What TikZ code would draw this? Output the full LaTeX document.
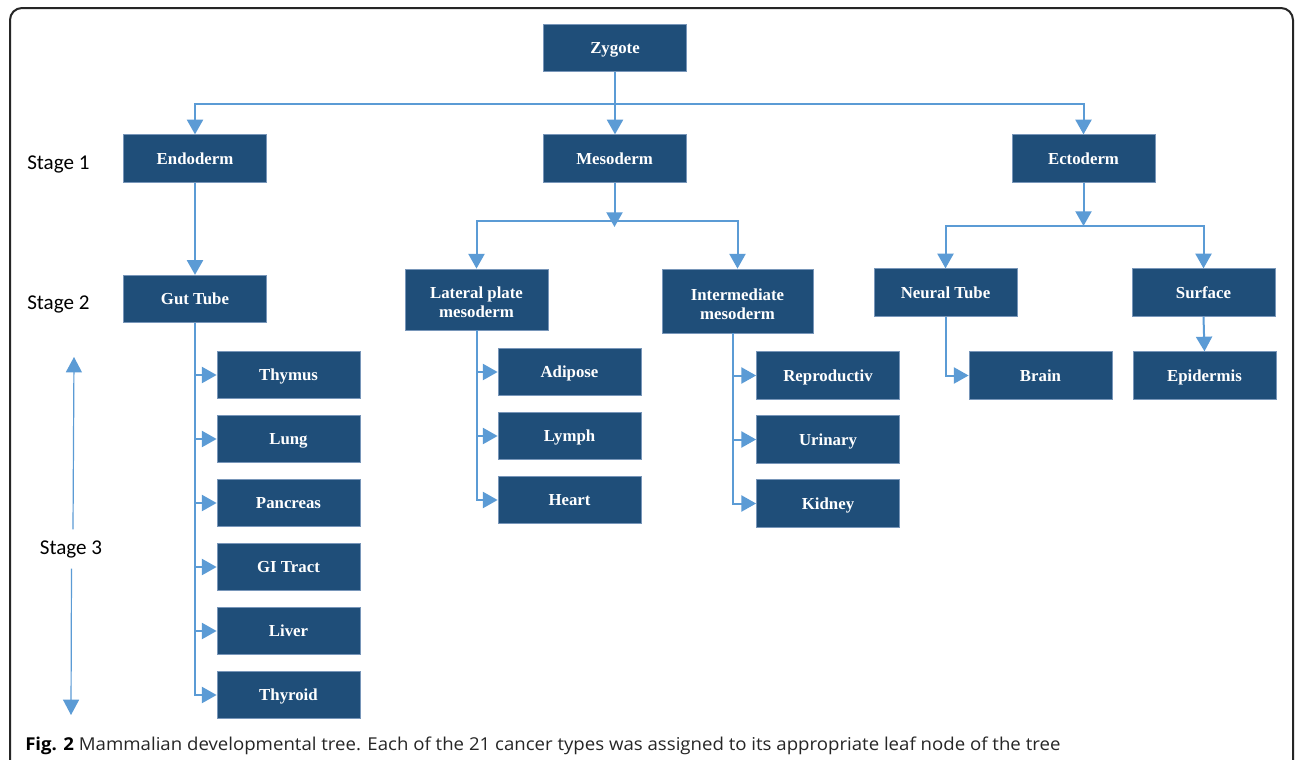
\documentclass[tikz,border=0pt]{standalone}
\usepackage{fontspec}
\setmainfont{Liberation Serif}
\newfontfamily\stagefont{Carlito}
\newfontfamily\capfont{Open Sans}
\usetikzlibrary{arrows.meta,calc}
\definecolor{boxblue}{RGB}{31,78,121}
\definecolor{boxedge}{RGB}{120,150,185}
\definecolor{linkblue}{RGB}{91,155,213}
\begin{document}
\begin{tikzpicture}[x=0.75pt,y=-0.75pt,
  box/.style={draw=boxedge, line width=0.6pt, fill=boxblue, text=white,
    font=\bfseries\fontsize{12.6}{14.25}\selectfont, align=center, inner sep=0pt,
    text depth=0pt, minimum width=107.25pt, minimum height=35.6pt},
  link/.style={draw=linkblue, line width=1.5pt, -{Triangle[width=12pt,length=11pt]}},
  stagearrow/.style={draw=linkblue, line width=0.9pt, -{Triangle[width=12pt,length=11.5pt]}},
  stagelbl/.style={font=\stagefont\fontsize{15.8}{18}\selectfont, inner sep=0pt}]
\clip (0,0) rectangle (1296,760);
\fill[white] (0,0) rectangle (1296,760);
% frame
\draw[line width=1.5pt, rounded corners=9pt, black!85] (10,8) rectangle (1293,775);

% stage 0 / 1
\node[box] (zyg) at (615,48) {Zygote};
\node[box] (endo) at (195,158.5) {Endoderm};
\node[box] (meso) at (614.5,158.5) {Mesoderm};
\node[box] (ecto) at (1083.5,158.5) {Ectoderm};
% stage 2
\node[box] (gut) at (195,299) {Gut Tube};
\node[box, minimum height=45.75pt] (lat) at (476.5,299.5) {\rule{0pt}{13pt}Lateral plate\\mesoderm};
\node[box, minimum width=113.25pt, minimum height=48pt] (inter) at (737.5,301) {\rule{0pt}{13pt}Intermediate\\mesoderm};
\node[box] (neural) at (945.5,292.5) {Neural Tube};
\node[box] (surf) at (1203.5,292.5) {Surface};
% stage 3 leaves
\node[box] (thymus) at (288.5,375) {Thymus};
\node[box] (lung) at (288.5,439) {Lung};
\node[box] (pancreas) at (288.5,503) {Pancreas};
\node[box] (gi) at (288.5,567) {GI Tract};
\node[box] (liver) at (288.5,631) {Liver};
\node[box] (thyroid) at (288.5,695) {Thyroid};
\node[box] (adipose) at (569.5,372) {Adipose};
\node[box] (lymph) at (569.5,436) {Lymph};
\node[box] (heart) at (569.5,500) {Heart};
\node[box] (repro) at (828,375.5) {Reproductiv};
\node[box] (urinary) at (828,439.5) {Urinary};
\node[box] (kidney) at (828,503.5) {Kidney};
\node[box] (brain) at (1040.5,375.5) {Brain};
\node[box] (epi) at (1204.5,375.5) {Epidermis};

% connectors from zygote
\coordinate (j0) at (615,104);
\draw[link] (zyg.south) -- (zyg.south |- meso.north);
\draw[link] (j0) -| (endo.north);
\draw[link] (j0) -| (ecto.north);
% endoderm
\draw[link] (endo.south) -- (gut.north);
\foreach \n in {thymus,lung,pancreas,gi,liver,thyroid}
  \draw[link] (gut.south) |- (\n.west);
% mesoderm
\coordinate (j1) at (614.5,221);
\coordinate (m1) at (614.5,227);
\draw[link] (meso.south) -- (m1);
\draw[link] (j1) -| (lat.north);
\draw[link] (j1) -| (inter.north);
\foreach \n in {adipose,lymph,heart}
  \draw[link] (lat.south) |- (\n.west);
\coordinate (ist) at ($(inter.south)+(-4.5,0)$);
\foreach \n in {repro,urinary,kidney}
  \draw[link] (ist) |- (\n.west);
% ectoderm
\coordinate (j2) at (1083.5,226);
\draw[link] (ecto.south) -- (j2);
\draw[link] (j2) -| (neural.north);
\draw[link] (j2) -| (surf.north);
\draw[link] (neural.south) |- (brain.west);
\draw[link] (surf.south) -- (epi.north);

% stage labels
\node[stagelbl, anchor=west] (s1) at (27,164) {Stage 1};
\node[stagelbl, anchor=west] (s2) at (27,304) {Stage 2};
\node[stagelbl, inner ysep=8pt] (s3) at (71,549) {Stage 3};
\coordinate (s3top) at (74,357);
\coordinate (s3bot) at (71,715);
\draw[stagearrow] ($(s3.north)+(2,0)$) -- (s3top);
\draw[stagearrow] ($(s3.south)+(0.5,0)$) -- (s3bot);

% caption
\node[anchor=west, inner sep=0pt, font=\capfont\fontsize{13.3}{15}\selectfont, text=black!85] (cap) at (25,746)
  {\scalebox{1.05}[1]{\textbf{\color{black}Fig. 2} Mammalian developmental tree. Each of the 21 cancer types was assigned to its appropriate leaf node of the tree}};
\end{tikzpicture}
\end{document}
